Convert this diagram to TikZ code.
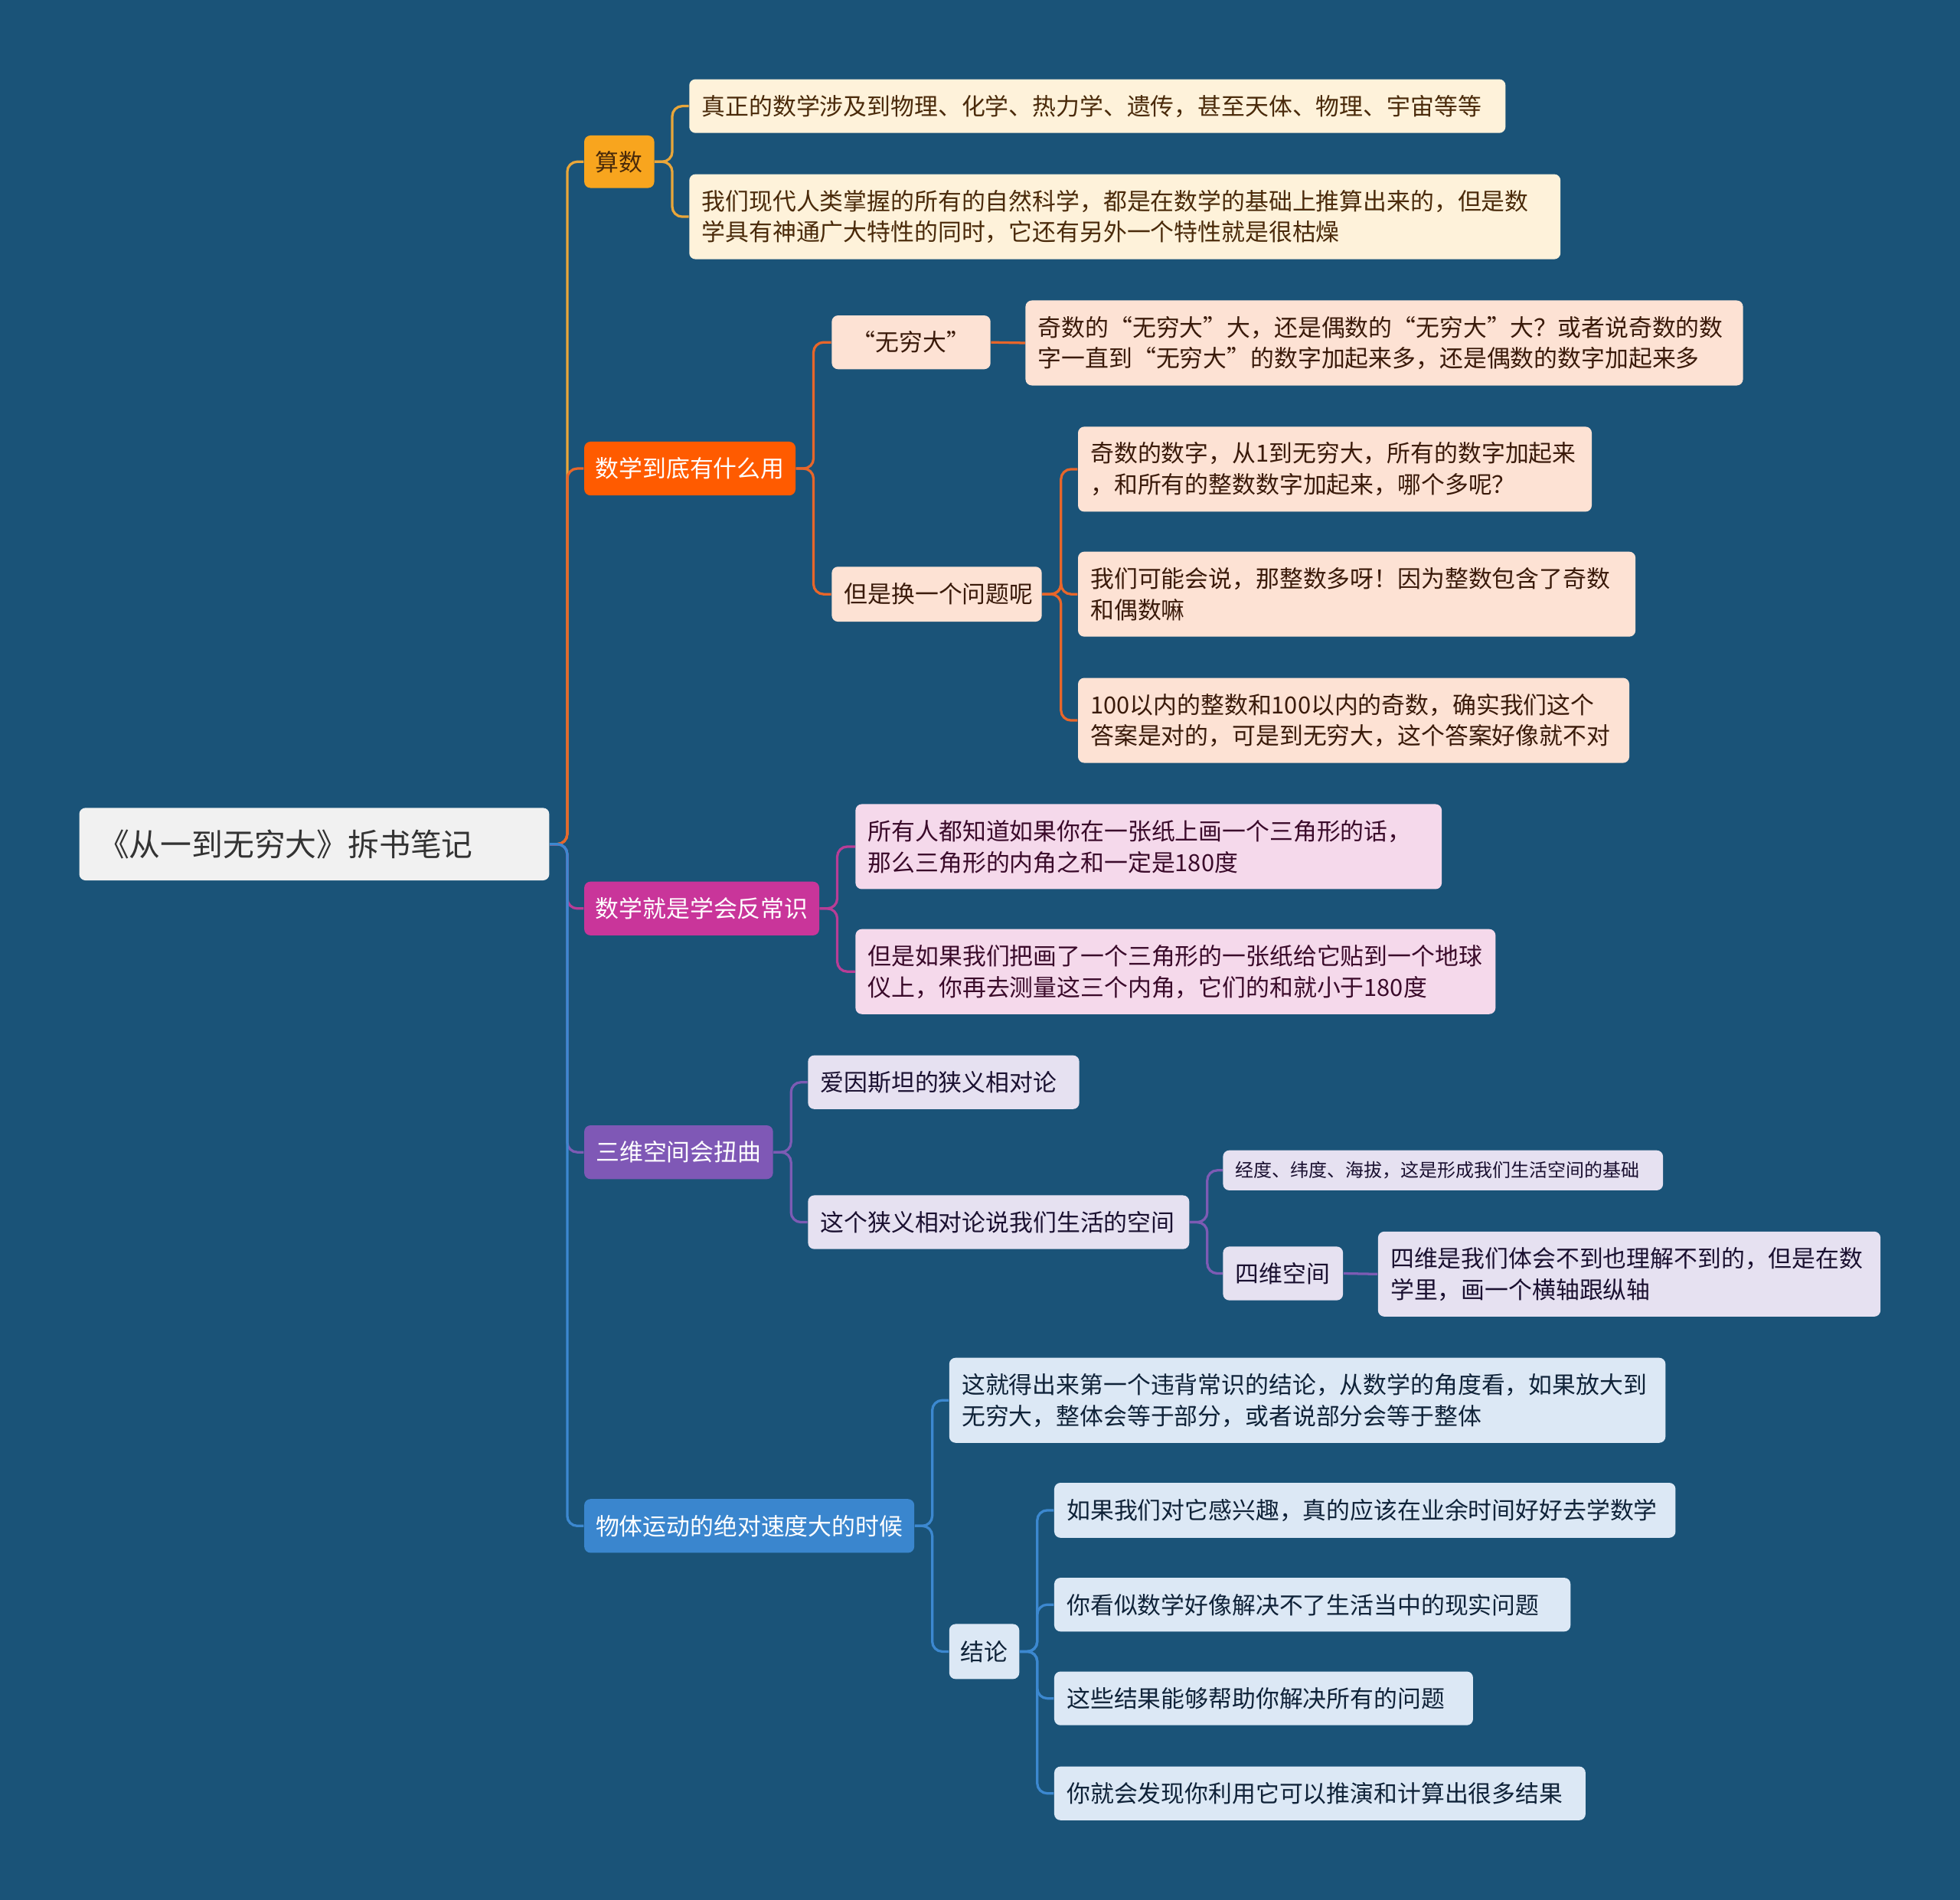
\documentclass[tikz,border=0pt]{standalone}
\usepackage{fontspec}
\newfontfamily\cjk{Noto Sans CJK SC}
\definecolor{bg}{HTML}{1A5378}
\definecolor{lnY}{HTML}{E9A63A}
\definecolor{fY}{HTML}{F8A51E}
\definecolor{cA}{HTML}{FEF2DA}
\definecolor{tA}{HTML}{4A2A0A}
\definecolor{lnO}{HTML}{E8662A}
\definecolor{fO}{HTML}{FF5B00}
\definecolor{cB}{HTML}{FDE2D4}
\definecolor{tB}{HTML}{3A1A0A}
\definecolor{lnP}{HTML}{B83D96}
\definecolor{fP}{HTML}{C9359A}
\definecolor{cD}{HTML}{F5D9EB}
\definecolor{tD}{HTML}{3A0A2A}
\definecolor{lnV}{HTML}{7D5BB4}
\definecolor{fV}{HTML}{7F58B6}
\definecolor{cE}{HTML}{E6E1F1}
\definecolor{tE}{HTML}{1A1030}
\definecolor{lnB}{HTML}{3C88D0}
\definecolor{fB}{HTML}{3A86CE}
\definecolor{cG}{HTML}{DCE8F5}
\definecolor{tG}{HTML}{0F2238}
\definecolor{cR}{HTML}{F1F1F1}
\definecolor{tR}{HTML}{333333}
\tikzset{
  nd/.style={anchor=north west, rounded corners=2.5pt, inner xsep=5pt, inner ysep=0pt,
    align=left, font=\cjk\fontsize{9.45}{12.5}\selectfont},
  lvl/.style={nd, inner xsep=0pt, text=white},
  ln/.style={line width=1pt, rounded corners=4pt},
}
\begin{document}
\begin{tikzpicture}[x=0.5pt,y=-0.5pt]
\fill[bg] (0,0) rectangle (1568,1520);
\useasboundingbox (0,0) rectangle (1568,1520);

% root
\node[nd, fill=cR, text=tR, inner xsep=7.5pt, text width=173pt, minimum height=29pt,
  font=\cjk\fontsize{12.5}{15}\selectfont] (root) at (63,646) {《从一到无穷大》拆书笔记};

% level 1
\node[lvl, fill=fY, text=tA, minimum width=28pt, minimum height=21pt] (s1) at (467,108) {算数};
\node[lvl, fill=fO, minimum width=84.5pt, minimum height=21.5pt] (s2) at (467,353) {数学到底有什么用};
\node[lvl, fill=fP, minimum width=94pt, minimum height=21.5pt] (s3) at (467,705) {数学就是学会反常识};
\node[lvl, fill=fV, minimum width=75.5pt, minimum height=21.5pt] (s4) at (467,900) {三维空间会扭曲};
\node[lvl, fill=fB, minimum width=132pt, minimum height=21.5pt] (s5) at (467,1199) {物体运动的绝对速度大的时候};

% branch A
\node[nd, fill=cA, text=tA, text width=316.5pt, minimum height=21.5pt] (a1) at (551,63)
  {真正的数学涉及到物理、化学、热力学、遗传，甚至天体、物理、宇宙等等};
\node[nd, fill=cA, text=tA, text width=338.5pt, minimum height=34pt] (a2) at (551,139)
  {我们现代人类掌握的所有的自然科学，都是在数学的基础上推算出来的，但是数\\学具有神通广大特性的同时，它还有另外一个特性就是很枯燥};

% branch B
\node[nd, inner xsep=0pt, fill=cB, text=tB, minimum width=63.5pt, minimum height=21.5pt] (b1) at (665,252) {“无穷大”};
\node[nd, fill=cB, text=tB, text width=277pt, minimum height=34pt] (bb1) at (820,240)
  {奇数的“无穷大”大，还是偶数的“无穷大”大？或者说奇数的数\\字一直到“无穷大”的数字加起来多，还是偶数的数字加起来多};
\node[nd, fill=cB, text=tB, text width=74pt, minimum height=22pt] (b2) at (665,453) {但是换一个问题呢};
\node[nd, fill=cB, text=tB, text width=195.5pt, minimum height=34pt] (c1) at (862,341)
  {奇数的数字，从1到无穷大，所有的数字加起来\\，和所有的整数数字加起来，哪个多呢？};
\node[nd, fill=cB, text=tB, text width=213pt, minimum height=34pt] (c2) at (862,441)
  {我们可能会说，那整数多呀！因为整数包含了奇数\\和偶数嘛};
\node[nd, fill=cB, text=tB, text width=210.5pt, minimum height=34pt] (c3) at (862,542)
  {100以内的整数和100以内的奇数，确实我们这个\\答案是对的，可是到无穷大，这个答案好像就不对};

% branch D
\node[nd, fill=cD, text=tD, text width=224.5pt, minimum height=34pt] (d1) at (684,643)
  {所有人都知道如果你在一张纸上画一个三角形的话，\\那么三角形的内角之和一定是180度};
\node[nd, fill=cD, text=tD, text width=246pt, minimum height=34pt] (d2) at (684,743)
  {但是如果我们把画了一个三角形的一张纸给它贴到一个地球\\仪上，你再去测量这三个内角，它们的和就小于180度};

% branch E
\node[nd, fill=cE, text=tE, text width=98.5pt, minimum height=21.5pt] (e1) at (646,844) {爱因斯坦的狭义相对论};
\node[nd, fill=cE, text=tE, text width=142.5pt, minimum height=21.5pt] (e2) at (646,956) {这个狭义相对论说我们生活的空间};
\node[nd, fill=cE, text=tE, text width=166pt, minimum height=16pt,
  font=\cjk\fontsize{7.35}{9}\selectfont] (f1) at (978,920) {经度、纬度、海拔，这是形成我们生活空间的基础};
\node[nd, fill=cE, text=tE, text width=38pt, minimum height=21.5pt] (f2) at (978,997) {四维空间};
\node[nd, fill=cE, text=tE, text width=191pt, minimum height=34pt] (ff) at (1102,985)
  {四维是我们体会不到也理解不到的，但是在数\\学里，画一个横轴跟纵轴};

% branch G
\node[nd, fill=cG, text=tG, text width=276.5pt, minimum height=34pt] (g1) at (759,1086)
  {这就得出来第一个违背常识的结论，从数学的角度看，如果放大到\\无穷大，整体会等于部分，或者说部分会等于整体};
\node[nd, inner xsep=0pt, fill=cG, text=tG, minimum width=28pt, minimum height=22pt] (g2) at (759,1299) {结论};
\node[nd, fill=cG, text=tG, text width=238.5pt, minimum height=22pt] (h1) at (843,1186) {如果我们对它感兴趣，真的应该在业余时间好好去学数学};
\node[nd, fill=cG, text=tG, text width=196.5pt, minimum height=21.5pt] (h2) at (843,1262) {你看似数学好像解决不了生活当中的现实问题};
\node[nd, fill=cG, text=tG, text width=157.5pt, minimum height=21.5pt] (h3) at (843,1337) {这些结果能够帮助你解决所有的问题};
\node[nd, fill=cG, text=tG, text width=202.5pt, minimum height=21.5pt] (h4) at (843,1413) {你就会发现你利用它可以推演和计算出很多结果};

% connectors root -> level 1
\draw[ln, lnY] (root.east) -- ++(14,0) |- (s1.west);
\draw[ln, lnO] (root.east) -- ++(14,0) |- (s2.west);
\draw[ln, lnP] (root.east) -- ++(14,0) |- (s3.west);
\draw[ln, lnV] (root.east) -- ++(14,0) |- (s4.west);
\draw[ln, lnB] (root.east) -- ++(14,0) |- (s5.west);

% branch A
\draw[ln, lnY] (s1.east) -- ++(14,0) |- (a1.west);
\draw[ln, lnY] (s1.east) -- ++(14,0) |- (a2.west);
% branch B
\draw[ln, lnO] (s2.east) -- ++(14,0) |- (b1.west);
\draw[ln, lnO] (s2.east) -- ++(14,0) |- (b2.west);
\draw[ln, lnO] (b1.east) -- (bb1.west);
\draw[ln, lnO] (b2.east) -- ++(15,0) |- (c1.west);
\draw[ln, lnO] (b2.east) -- ++(15,0) |- (c2.west);
\draw[ln, lnO] (b2.east) -- ++(15,0) |- (c3.west);
% branch D
\draw[ln, lnP] (s3.east) -- ++(14,0) |- (d1.west);
\draw[ln, lnP] (s3.east) -- ++(14,0) |- (d2.west);
% branch E
\draw[ln, lnV] (s4.east) -- ++(14,0) |- (e1.west);
\draw[ln, lnV] (s4.east) -- ++(14,0) |- (e2.west);
\draw[ln, lnV] (e2.east) -- ++(14,0) |- (f1.west);
\draw[ln, lnV] (e2.east) -- ++(14,0) |- (f2.west);
\draw[ln, lnV] (f2.east) -- (ff.west);
% branch G
\draw[ln, lnB] (s5.east) -- ++(14,0) |- (g1.west);
\draw[ln, lnB] (s5.east) -- ++(14,0) |- (g2.west);
\draw[ln, lnB] (g2.east) -- ++(14,0) |- (h1.west);
\draw[ln, lnB] (g2.east) -- ++(14,0) |- (h2.west);
\draw[ln, lnB] (g2.east) -- ++(14,0) |- (h3.west);
\draw[ln, lnB] (g2.east) -- ++(14,0) |- (h4.west);
\end{tikzpicture}
\end{document}
